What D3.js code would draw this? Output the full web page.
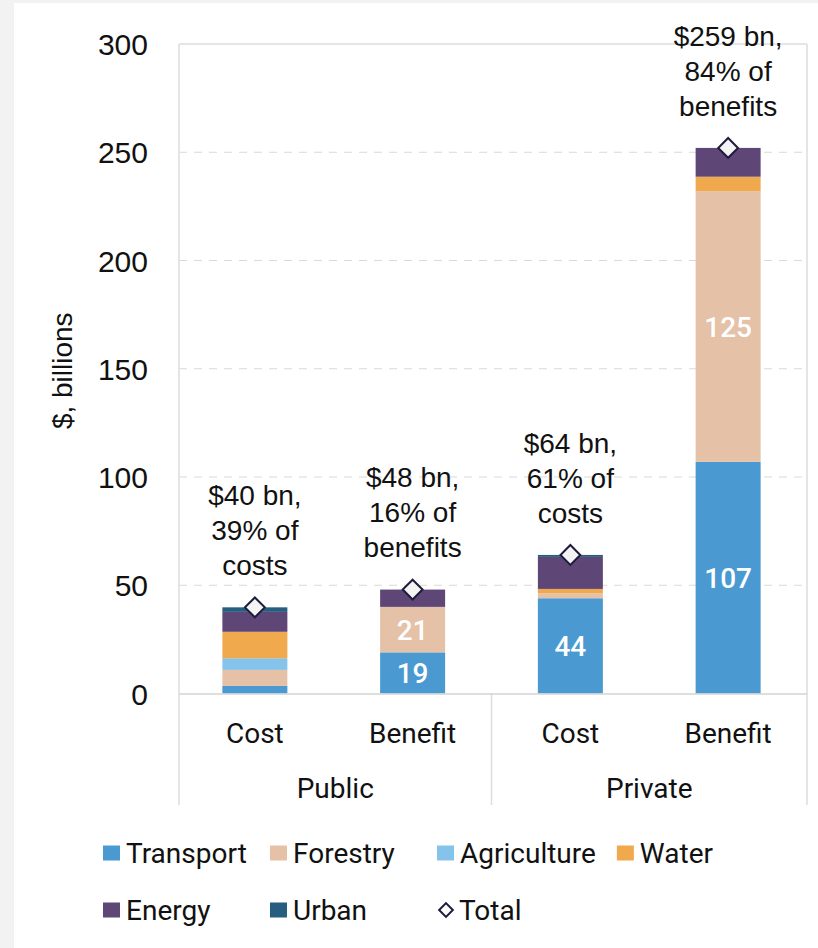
<!DOCTYPE html>
<html>
<head>
<meta charset="utf-8">
<script src="https://cdn.jsdelivr.net/npm/d3@7"></script>
<style>
  html, body { margin: 0; padding: 0; background: #f2f2f2; }
  svg { display: block; }
</style>
</head>
<body>
<svg id="chart" width="818" height="948"></svg>
<script>
// ---- data ($ billions) ----
const bars = ["Public Cost", "Public Benefit", "Private Cost", "Private Benefit"];
const barLabels = ["Cost", "Benefit", "Cost", "Benefit"];
const groups = ["Public", "Private"];
const sectors = ["Transport", "Forestry", "Agriculture", "Water", "Energy", "Urban"];

const transport   = [3.5, 19, 44, 107];
const forestry    = [7.4, 21, 2.3, 125];
const agriculture = [5.4, 0, 0, 0];
const water       = [12.2, 0, 2.0, 6.7];
const energy      = [9.2, 8, 14.8, 13.3];
const urban       = [2.1, 0, 0.9, 0];

// segments that carry a value label
const labelled = { Transport: [false, true, true, true], Forestry: [false, true, false, true] };

const totalNotes = [
  ["$40 bn,", "39% of", "costs"],
  ["$48 bn,", "16% of", "benefits"],
  ["$64 bn,", "61% of", "costs"],
  ["$259 bn,", "84% of", "benefits"]
];

const yTicks = [0, 50, 100, 150, 200, 250, 300];

const colors = {
  Transport: "#4a9ad1",
  Forestry: "#e5c1a8",
  Agriculture: "#86c3ea",
  Water: "#f0aa4d",
  Energy: "#5e4777",
  Urban: "#275d7f"
};

// ---- table for d3.stack ----
const seriesValues = { Transport: transport, Forestry: forestry, Agriculture: agriculture,
                       Water: water, Energy: energy, Urban: urban };
const table = bars.map((b, i) => {
  const row = { bar: b, index: i };
  sectors.forEach(s => row[s] = seriesValues[s][i]);
  return row;
});
const stacked = d3.stack().keys(sectors)(table);
const totals = table.map(r => d3.sum(sectors, s => r[s]));

// ---- layout ----
const svg = d3.select("#chart");
const W = 818, H = 948;
const plot = { left: 179, right: 807, top: 44, bottom: 693.5 };
const catBottom = 805;

const x = d3.scaleBand().domain(bars).range([176, 807]).paddingInner(0).paddingOuter(0);
const barW = 65;
const cx = d => x(d) + x.bandwidth() / 2;
const y = d3.scaleLinear().domain([0, 300]).range([plot.bottom, plot.top]);

const numFont = "'Liberation Sans', Arial, Helvetica, sans-serif";
const catFont = "Roboto, 'Noto Sans', sans-serif";

// page background: grey margin, white panel
svg.append("rect").attr("width", W).attr("height", H).attr("fill", "#f2f2f2");
svg.append("rect").attr("x", 14).attr("y", 3).attr("width", W - 14).attr("height", H - 3).attr("fill", "#ffffff");

// gridlines
svg.append("g")
  .selectAll("line")
  .data(yTicks.filter(t => t > 0 && t < 300))
  .join("line")
  .attr("x1", plot.left).attr("x2", plot.right)
  .attr("y1", d => y(d)).attr("y2", d => y(d))
  .attr("stroke", "#d9d9d9").attr("stroke-width", 1.2)
  .attr("stroke-dasharray", "8,7");

// frame around the plot and the category area
const frame = svg.append("g").attr("stroke", "#dcdcdc").attr("stroke-width", 1.5).attr("fill", "none");
frame.append("line").attr("x1", plot.left).attr("x2", plot.right).attr("y1", y(300)).attr("y2", y(300));
frame.append("line").attr("x1", plot.left).attr("x2", plot.left).attr("y1", y(300)).attr("y2", catBottom);
frame.append("line").attr("x1", plot.right).attr("x2", plot.right).attr("y1", y(300)).attr("y2", catBottom);
// separator between Public and Private
const sepX = (x(bars[1]) + x.bandwidth() + x(bars[2])) / 2;
frame.append("line").attr("x1", sepX).attr("x2", sepX).attr("y1", y(0)).attr("y2", catBottom);

// y axis tick labels
const yAxis = d3.axisLeft(y).tickValues(yTicks).tickSize(0).tickPadding(0);
const yAxisG = svg.append("g").attr("transform", `translate(148,0)`).call(yAxis);
yAxisG.select(".domain").remove();
yAxisG.selectAll("text")
  .attr("font-family", numFont).attr("font-size", 30).attr("fill", "#111")
  .attr("dy", "0.35em");

// y axis title
svg.append("text")
  .attr("transform", `translate(62,${(y(0) + y(300)) / 2 + 2}) rotate(-90)`)
  .attr("text-anchor", "middle").attr("dy", "0.35em")
  .attr("font-family", numFont).attr("font-size", 28).attr("fill", "#111")
  .text("$, billions");

// stacked bars
svg.append("g")
  .selectAll("g")
  .data(stacked)
  .join("g")
  .attr("fill", d => colors[d.key])
  .selectAll("rect")
  .data(d => d)
  .join("rect")
  .attr("x", d => cx(d.data.bar) - barW / 2)
  .attr("width", barW)
  .attr("y", d => y(d[1]))
  .attr("height", d => y(d[0]) - y(d[1]));

// category axis line at zero
svg.append("line")
  .attr("x1", plot.left).attr("x2", plot.right)
  .attr("y1", y(0) + 0.5).attr("y2", y(0) + 0.5)
  .attr("stroke", "#d3d3d3").attr("stroke-width", 1.5);

// value labels inside segments
const valueLabels = [];
stacked.forEach(layer => {
  const flags = labelled[layer.key];
  if (!flags) return;
  layer.forEach((seg, i) => {
    if (flags[i]) valueLabels.push({ bar: seg.data.bar, v: seg[1] - seg[0], mid: (seg[0] + seg[1]) / 2 });
  });
});
svg.append("g")
  .selectAll("text")
  .data(valueLabels)
  .join("text")
  .attr("x", d => cx(d.bar))
  .attr("y", d => y(d.mid))
  .attr("dy", "0.36em")
  .attr("text-anchor", "middle")
  .attr("font-family", catFont).attr("font-size", 28).attr("font-weight", 500)
  .attr("fill", "#ffffff")
  .text(d => d3.format("d")(Math.round(d.v)));

// total markers
const diamond = d3.symbol().type(d3.symbolDiamond2).size(250);
svg.append("g")
  .selectAll("path")
  .data(totals)
  .join("path")
  .attr("d", diamond)
  .attr("transform", (d, i) => `translate(${cx(bars[i])},${y(d)})`)
  .attr("fill", "#f4f4f4").attr("stroke", "#1e1c3c").attr("stroke-width", 2);

// total annotations above each bar
const lineH = 35;
totalNotes.forEach((lines, i) => {
  const lastY = y(totals[i]) - 42;
  const t = svg.append("text")
    .attr("text-anchor", "middle")
    .attr("font-family", numFont).attr("font-size", 28).attr("fill", "#111");
  lines.forEach((ln, k) => {
    t.append("tspan")
      .attr("x", cx(bars[i]))
      .attr("y", lastY - (lines.length - 1 - k) * lineH)
      .attr("dy", "0.35em")
      .text(ln);
  });
});

// category labels
svg.append("g")
  .selectAll("text")
  .data(bars)
  .join("text")
  .attr("x", d => cx(d))
  .attr("y", 733)
  .attr("dy", "0.35em")
  .attr("text-anchor", "middle")
  .attr("font-family", catFont).attr("font-size", 28).attr("fill", "#111")
  .text((d, i) => barLabels[i]);

// group labels
svg.append("g")
  .selectAll("text")
  .data(groups)
  .join("text")
  .attr("x", (d, i) => i === 0 ? (plot.left + sepX) / 2 : (sepX + plot.right) / 2)
  .attr("y", 788)
  .attr("dy", "0.35em")
  .attr("text-anchor", "middle")
  .attr("font-family", catFont).attr("font-size", 28).attr("fill", "#111")
  .text(d => d);

// legend
const legendItems = sectors.map(s => ({ name: s, type: "swatch" })).concat([{ name: "Total", type: "diamond" }]);
const legendRows = [legendItems.slice(0, 4), legendItems.slice(4)];
const legendRowY = [853, 910];
const colStep = 167, legendX0 = 103, minGap = 21;
const legend = svg.append("g");
legendRows.forEach((row, r) => {
  let prevEnd = -Infinity;
  row.forEach((item, c) => {
    const gx = Math.max(legendX0 + c * colStep, prevEnd + minGap);
    const g = legend.append("g").attr("transform", `translate(${gx},${legendRowY[r]})`);
    if (item.type === "swatch") {
      g.append("rect").attr("x", 0).attr("y", -7.5).attr("width", 17).attr("height", 15)
        .attr("fill", colors[item.name]);
    } else {
      g.append("path").attr("d", d3.symbol().type(d3.symbolDiamond2).size(120))
        .attr("transform", "translate(9,0)")
        .attr("fill", "#ffffff").attr("stroke", "#1e1c3c").attr("stroke-width", 2);
    }
    const txt = g.append("text")
      .attr("x", item.type === "swatch" ? 23 : 22)
      .attr("y", 0).attr("dy", "0.35em")
      .attr("font-family", catFont).attr("font-size", 28).attr("fill", "#111")
      .text(item.name);
    prevEnd = gx + (item.type === "swatch" ? 23 : 22) + txt.node().getComputedTextLength();
  });
});
</script>
</body>
</html>
